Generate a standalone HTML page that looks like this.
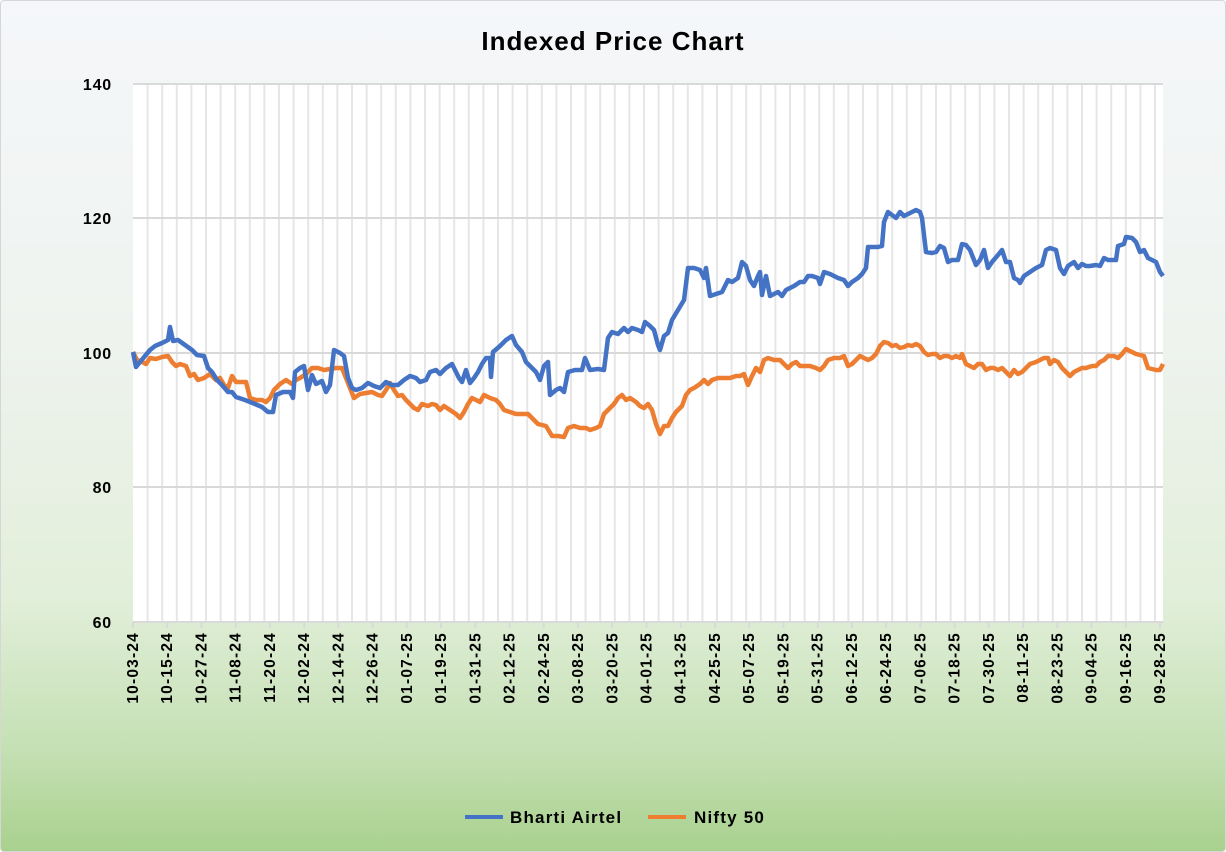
<!DOCTYPE html>
<html><head><meta charset="utf-8"><style>
html,body{margin:0;padding:0;}
body{width:1226px;height:852px;overflow:hidden;}
.card{position:absolute;left:0;top:0;width:1224px;height:850px;border:1px solid #d6d6d6;border-radius:4px;
background:linear-gradient(to bottom,#f5f7fa 0%,#eef3ee 40%,#e2efda 70%,#c5e0b4 88%,#a9d18e 100%);}
</style></head><body>
<div class="card"></div>
<svg width="1226" height="852" style="position:absolute;left:0;top:0" font-family="Liberation Sans, sans-serif">
<text x="613" y="50" text-anchor="middle" font-size="26" font-weight="bold" fill="#000" letter-spacing="1">Indexed Price Chart</text>
<rect x="133" y="83" width="1030" height="539" fill="#fff"/>
<g id="vg" stroke="#e6e6e6" stroke-width="2"></g>
<g stroke="#d9d9d9" stroke-width="2">
<line x1="133" y1="84" x2="1163" y2="84"/>
<line x1="133" y1="218" x2="1163" y2="218"/>
<line x1="133" y1="353" x2="1163" y2="353"/>
<line x1="133" y1="487" x2="1163" y2="487"/>
<line x1="133" y1="622" x2="1163" y2="622"/>
</g>
<g id="ticks" stroke="#d9d9d9" stroke-width="2"></g>
<g font-size="16" font-weight="bold" text-anchor="end" fill="#000" letter-spacing="0.8">
<text x="112" y="90">140</text><text x="112" y="224">120</text><text x="112" y="359">100</text><text x="112" y="493">80</text><text x="112" y="628">60</text>
</g>
<g id="xl" font-size="15.5" font-weight="bold" fill="#000" letter-spacing="1.2"></g>
<polyline fill="none" stroke="#ed7d31" stroke-width="4.5" stroke-linejoin="round" points="133,352 137,360 142,362 146,364 150,358 156,359 162,357 168,356 172,362 176,366 180,364 186,366 190,376 194,374 198,380 204,378 210,374 216,380 220,378 224,385 228,388 232,376 236,382 242,382 246,382 250,398 256,400 262,400 266,402 270,398 274,390 280,384 286,380 292,384 296,380 300,378 306,374 312,368 318,368 324,370 330,369 336,368 342,368 346,378 350,388 354,398 360,394 366,393 372,392 378,395 382,396 386,390 390,383 394,390 398,396 402,395 406,400 410,404 414,408 418,410 422,404 428,406 432,404 436,405 440,410 444,406 450,410 456,414 460,418 464,412 468,404 472,398 476,400 480,402 484,395 490,398 496,400 500,404 504,410 510,412 516,414 522,414 528,414 534,420 538,424 546,426 552,436 558,436 564,437 568,428 574,426 580,428 586,428 590,430 596,428 600,426 604,414 608,410 614,404 618,398 622,395 626,400 630,398 636,402 640,406 644,408 648,404 652,410 656,424 660,434 664,426 668,426 672,418 676,412 682,406 686,395 690,390 694,388 700,384 704,380 708,384 712,380 718,378 724,378 730,378 736,376 740,376 744,374 748,385 752,376 756,368 760,372 764,360 768,358 774,360 780,360 784,364 788,368 792,364 796,362 800,366 804,366 810,366 816,368 820,370 824,366 828,360 834,358 840,358 844,356 848,366 852,364 856,360 860,356 864,358 868,360 872,358 876,354 880,346 884,342 888,343 892,346 896,345 900,348 904,347 908,345 912,346 916,344 920,346 924,352 928,355 932,354 936,354 940,358 944,356 948,356 952,358 956,356 960,358 962,354 966,364 970,366 974,368 978,364 982,364 986,370 990,368 994,368 998,370 1002,368 1006,372 1010,376 1014,370 1018,374 1022,372 1026,368 1030,364 1036,362 1040,360 1044,358 1048,358 1050,364 1054,360 1058,362 1062,368 1066,372 1070,376 1074,372 1078,370 1082,368 1086,368 1092,366 1096,366 1100,362 1104,360 1108,356 1114,356 1118,358 1122,354 1126,349 1130,351 1136,354 1140,355 1144,356 1148,368 1152,369 1156,370 1160,370 1163,364"/>
<polyline fill="none" stroke="#4472c4" stroke-width="4.5" stroke-linejoin="round" points="133,352 136,367 140,362 145,356 150,350 155,346 162,343 168,340 170,327 173,341 178,340 185,345 192,350 197,355 204,356 208,368 212,372 217,380 222,385 228,392 232,392 236,397 245,400 255,404 262,407 268,412 273,412 276,395 283,392 290,392 293,398 295,372 300,368 304,366 308,390 312,375 316,384 322,381 326,392 330,385 334,350 340,353 344,356 348,378 352,388 356,390 362,388 368,383 374,386 380,388 386,382 392,385 398,385 404,380 410,376 416,378 420,382 426,380 430,372 436,370 440,374 446,368 452,364 455,370 459,378 462,382 466,370 470,383 474,378 478,372 482,364 486,358 490,358 491,377 493,352 500,346 506,340 512,336 516,345 522,352 526,362 530,366 536,372 540,380 544,366 548,362 550,395 556,390 560,388 564,392 568,372 575,370 582,370 585,358 590,370 598,369 604,370 608,338 612,332 618,334 624,328 628,332 632,328 638,330 642,332 645,322 650,326 654,330 658,345 660,350 664,336 668,333 672,320 678,310 684,300 688,268 694,268 700,270 704,278 706,268 710,296 716,294 722,292 728,280 732,282 738,278 742,262 746,266 750,280 754,286 758,276 760,272 762,295 766,276 770,296 774,294 778,292 782,296 786,290 790,288 794,286 800,282 804,282 808,276 812,276 818,278 820,284 824,272 830,274 834,276 838,278 844,280 848,286 852,282 858,278 862,274 866,268 868,247 874,247 878,247 882,246 884,222 888,212 892,215 896,218 900,212 904,216 908,214 912,212 916,210 920,212 922,218 926,252 932,253 936,252 940,246 944,248 948,262 952,260 958,260 962,244 966,245 970,250 976,265 980,260 984,250 988,268 992,262 998,255 1002,250 1006,262 1010,262 1014,278 1018,280 1020,283 1024,276 1030,272 1036,268 1042,265 1046,250 1050,248 1056,250 1060,268 1064,274 1068,266 1074,262 1078,268 1082,264 1086,266 1090,266 1096,265 1100,266 1104,258 1108,260 1112,260 1116,260 1118,246 1124,244 1126,237 1132,238 1136,242 1140,252 1144,250 1148,258 1152,260 1156,262 1160,272 1163,276"/>
<line x1="465" y1="817" x2="503" y2="817" stroke="#4472c4" stroke-width="4"/>
<text x="510" y="823" font-size="17" font-weight="bold" letter-spacing="1.2">Bharti Airtel</text>
<line x1="648" y1="817" x2="686" y2="817" stroke="#ed7d31" stroke-width="4"/>
<text x="694" y="823" font-size="17" font-weight="bold" letter-spacing="1.2">Nifty 50</text>
</svg>
<script>
var ns="http://www.w3.org/2000/svg";
var vg=document.getElementById('vg');
for(var x=133+14.6;x<1163;x+=14.6){var l=document.createElementNS(ns,'line');l.setAttribute('x1',x);l.setAttribute('x2',x);l.setAttribute('y1',84);l.setAttribute('y2',621);vg.appendChild(l);}
var labels=["10-03-24","10-15-24","10-27-24","11-08-24","11-20-24","12-02-24","12-14-24","12-26-24","01-07-25","01-19-25","01-31-25","02-12-25","02-24-25","03-08-25","03-20-25","04-01-25","04-13-25","04-25-25","05-07-25","05-19-25","05-31-25","06-12-25","06-24-25","07-06-25","07-18-25","07-30-25","08-11-25","08-23-25","09-04-25","09-16-25","09-28-25"];
var tg=document.getElementById('ticks'),xl=document.getElementById('xl');
var step=(1160-133)/30;
for(var i=0;i<labels.length;i++){var x=133+i*step;
var l=document.createElementNS(ns,'line');l.setAttribute('x1',x);l.setAttribute('x2',x);l.setAttribute('y1',622);l.setAttribute('y2',628);tg.appendChild(l);
var t=document.createElementNS(ns,'text');t.setAttribute('transform','translate('+(x+5)+',632) rotate(-90)');t.setAttribute('text-anchor','end');t.textContent=labels[i];xl.appendChild(t);}
</script>
</body></html>
